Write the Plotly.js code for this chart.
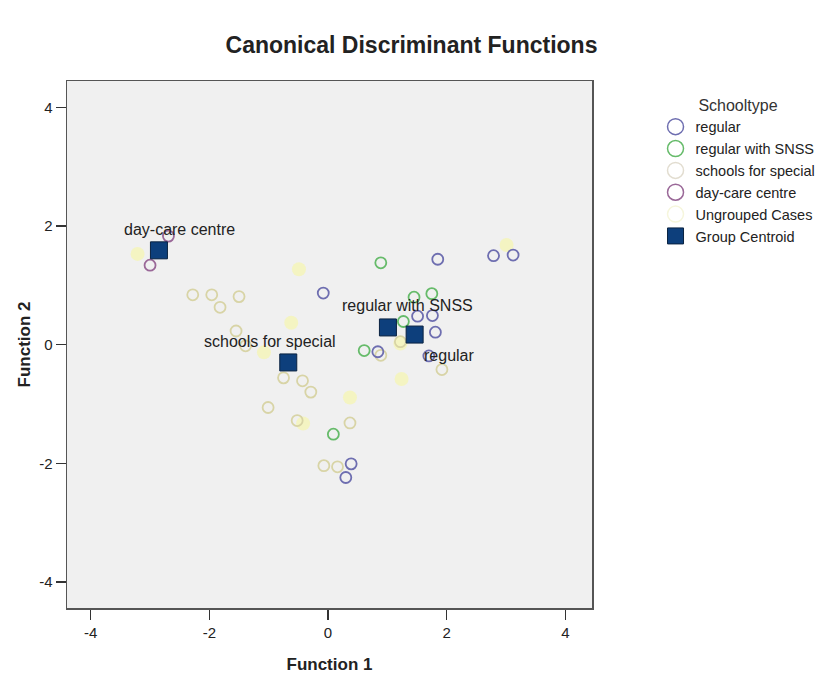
<!DOCTYPE html>
<html>
<head>
<meta charset="utf-8">
<script src="https://cdn.plot.ly/plotly-3.0.1.min.js"></script>
<style>html,body{margin:0;padding:0;background:#fff;}#chart{width:833px;height:678px;}</style>
</head>
<body>
<div id="chart"></div>
<script>
// Canonical discriminant function scores
var regularX = [-0.08, 1.85, 2.79, 3.12, 1.51, 1.76, 1.81, 0.84, 1.70, 0.39, 0.30];
var regularY = [0.87, 1.44, 1.50, 1.51, 0.48, 0.49, 0.21, -0.12, -0.19, -2.01, -2.24];

var snssX = [0.89, 1.45, 1.75, 1.27, 0.61, 0.09];
var snssY = [1.38, 0.80, 0.86, 0.39, -0.10, -1.51];

var specialX = [-2.28, -1.96, -1.50, -1.82, -1.55, -1.39, -0.75, -0.43, -0.29, -1.01, -0.52, 0.37, -0.07, 0.16, 1.92, 0.89, 1.22];
var specialY = [0.84, 0.84, 0.81, 0.63, 0.23, -0.02, -0.56, -0.61, -0.80, -1.06, -1.28, -1.32, -2.04, -2.06, -0.42, -0.18, 0.05];

var daycareX = [-3.00, -2.69];
var daycareY = [1.34, 1.83];

var ungroupedX = [-3.21, -0.49, -0.62, -1.08, 0.37, -0.42, 3.01, 1.24, 1.22];
var ungroupedY = [1.53, 1.27, 0.37, -0.13, -0.89, -1.33, 1.68, -0.58, 0.02];

var centroidNames = ["regular", "regular with SNSS", "schools for special", "day-care centre"];
var centroidX = [1.46, 1.01, -0.67, -2.85];
var centroidY = [0.17, 0.29, -0.30, 1.59];

var legendNames = ["regular", "regular with SNSS", "schools for special", "day-care centre", "Ungrouped Cases", "Group Centroid"];
var tickVals = [-4, -2, 0, 2, 4];

var cRegular = '#6e6eb0', cSnss = '#66bb6a', cSpecial = '#d8d4a6', cDay = '#9a6898', cUng = 'rgba(244,244,186,0.85)', cCent = '#0d3f7c';

function ring(x, y, color) {
  return {type: 'scatter', mode: 'markers', x: x, y: y, showlegend: false, hoverinfo: 'skip',
    marker: {symbol: 'circle-open', size: 11, color: color, line: {width: 1.8, color: color}}};
}
var traces = [
  {type: 'scatter', mode: 'markers', x: ungroupedX, y: ungroupedY, showlegend: false,
    marker: {symbol: 'circle', size: 14, color: cUng, line: {width: 0}}},
  ring(specialX, specialY, cSpecial),
  ring(daycareX, daycareY, cDay),
  ring(snssX, snssY, cSnss),
  ring(regularX, regularY, cRegular),
  {type: 'scatter', mode: 'markers', x: centroidX, y: centroidY, text: centroidNames, showlegend: false,
    marker: {symbol: 'square', size: 17, color: cCent, line: {width: 1, color: '#0a2240'}}}
];
// legend entries
var legStyles = [
  {symbol: 'circle-open', color: cRegular, lw: 1.5},
  {symbol: 'circle-open', color: cSnss, lw: 1.5},
  {symbol: 'circle-open', color: '#e2ddd0', lw: 1.5},
  {symbol: 'circle-open', color: cDay, lw: 1.5},
  {symbol: 'circle-open', color: '#f6f6dc', lw: 1.5},
  {symbol: 'square', color: cCent, lw: 1}
];
legendNames.forEach(function (n, i) {
  var s = legStyles[i];
  traces.push({type: 'scatter', mode: 'markers', x: [null], y: [null], name: n, showlegend: true,
    marker: {symbol: s.symbol, size: 16, color: s.color, line: {width: s.lw, color: s.symbol === 'square' ? '#0a2240' : s.color}}});
});

var shifts = [[34, -21], [20, 22], [-18, 21], [21, 21]];
var annotations = centroidNames.map(function (n, i) {
  return {x: centroidX[i], y: centroidY[i], xref: 'x', yref: 'y', text: n, showarrow: false,
    xshift: shifts[i][0], yshift: shifts[i][1], font: {family: 'Arial, Liberation Sans', size: 16, color: '#222'}};
});

var axisCommon = {
  tickvals: tickVals, ticktext: tickVals.map(String), ticks: 'outside', ticklen: 10, tickwidth: 1.5, tickcolor: '#333',
  showgrid: false, zeroline: false, showline: true, mirror: true, linecolor: '#555', linewidth: 1.5,
  tickfont: {family: 'Arial, Liberation Sans', size: 15, color: '#222'}
};

var layout = {
  width: 833, height: 678,
  margin: {l: 67, r: 239, t: 81, b: 70},
  paper_bgcolor: '#ffffff', plot_bgcolor: '#f0f0f0',
  title: {text: '<b>Canonical Discriminant Functions</b>', x: 0.494, xanchor: 'center', y: 0.934, yanchor: 'middle',
    font: {family: 'Arial, Liberation Sans', size: 23, color: '#222'}},
  xaxis: Object.assign({}, axisCommon, {range: [-4.40, 4.45],
    title: {text: '<b>Function 1</b>', standoff: 18, font: {family: 'Arial, Liberation Sans', size: 17, color: '#222'}}}),
  yaxis: Object.assign({}, axisCommon, {range: [-4.44, 4.445],
    title: {text: '<b>Function 2</b>', standoff: 4, font: {family: 'Arial, Liberation Sans', size: 17, color: '#222'}}}),
  legend: {x: 1.121, xanchor: 'left', y: 0.983, yanchor: 'top', bgcolor: 'rgba(0,0,0,0)',
    font: {family: 'Arial, Liberation Sans', size: 14.5, color: '#222'},
    title: {text: 'Schooltype', side: 'top center', font: {family: 'Arial, Liberation Sans', size: 16, color: '#333'}},
    itemclick: false, itemdoubleclick: false},
  annotations: annotations,
  showlegend: true
};

Plotly.newPlot('chart', traces, layout, {displayModeBar: false, staticPlot: true});
</script>
</body>
</html>
